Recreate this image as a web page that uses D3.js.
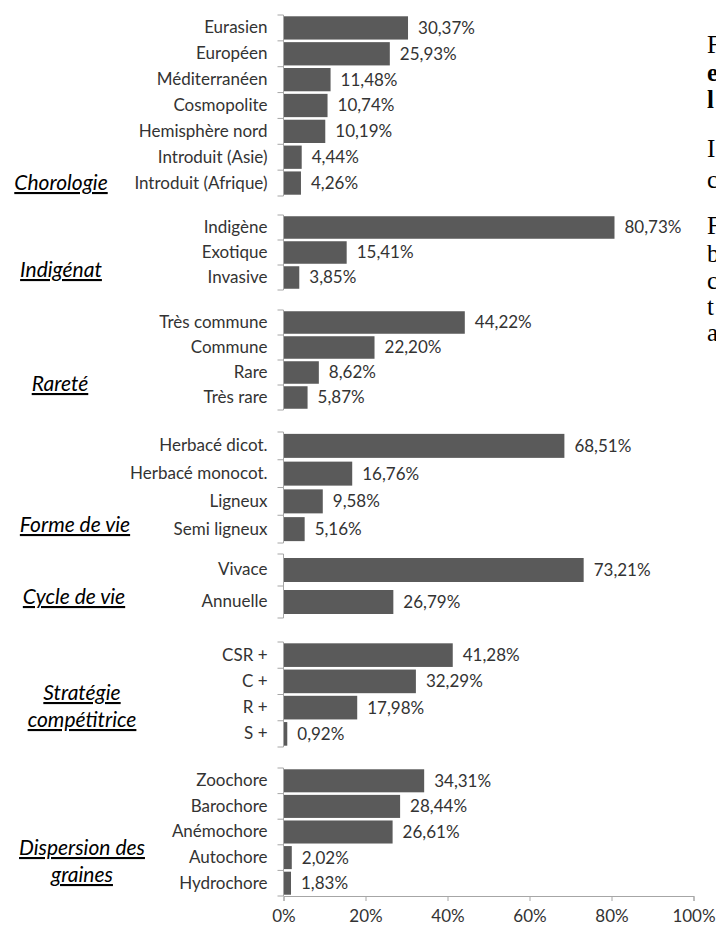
<!DOCTYPE html>
<html>
<head>
<meta charset="utf-8">
<script src="https://cdn.jsdelivr.net/npm/d3@7"></script>
<style>
  body { margin: 0; background: #fff; }
  svg { display: block; }
  .cat text { font-family: Lato, "Open Sans", sans-serif; font-size: 17px; fill: #333; }
  .val { font-family: Lato, "Open Sans", sans-serif; font-size: 17px; fill: #333; }
  .xaxis text { font-family: Lato, "Open Sans", sans-serif; font-size: 17px; fill: #333; }
  .title { font-family: Lato, "Open Sans", sans-serif; font-size: 21px; font-style: italic; text-decoration: underline; fill: #000; }
  .side { font-family: "Liberation Serif", "DejaVu Serif", serif; font-size: 25px; fill: #000; }
</style>
</head>
<body>
<svg width="716" height="928"></svg>
<script>
const svg = d3.select('svg');

// data, one list per block
const chorologie = ['Eurasien', 'Européen', 'Méditerranéen', 'Cosmopolite', 'Hemisphère nord', 'Introduit (Asie)', 'Introduit (Afrique)'];
const chorologieVal = [30.37, 25.93, 11.48, 10.74, 10.19, 4.44, 4.26];

const indigenat = ['Indigène', 'Exotique', 'Invasive'];
const indigenatVal = [80.73, 15.41, 3.85];

const rarete = ['Très commune', 'Commune', 'Rare', 'Très rare'];
const rareteVal = [44.22, 22.20, 8.62, 5.87];

const forme = ['Herbacé dicot.', 'Herbacé monocot.', 'Ligneux', 'Semi ligneux'];
const formeVal = [68.51, 16.76, 9.58, 5.16];

const cycle = ['Vivace', 'Annuelle'];
const cycleVal = [73.21, 26.79];

const strategie = ['CSR +', 'C +', 'R +', 'S +'];
const strategieVal = [41.28, 32.29, 17.98, 0.92];

const dispersion = ['Zoochore', 'Barochore', 'Anémochore', 'Autochore', 'Hydrochore'];
const dispersionVal = [34.31, 28.44, 26.61, 2.02, 1.83];

const titles = [['Chorologie'], ['Indigénat'], ['Rareté'], ['Forme de vie'], ['Cycle de vie'],
  ['Stratégie', 'compétitrice'], ['Dispersion des', 'graines']];

const xTicks = [0, 20, 40, 60, 80, 100];

// bits of the neighbouring paragraph, cut off by the page edge
const sideLetters = ['F', 'e', 'l', 'I', 'c', 'F', 'b', 'c', 't', 'a'];
const sideBold = [false, true, true, false, false, false, false, false, false, false];

// layout
const x0 = 283.5, x1 = 693.5;
const x = d3.scaleLinear().domain([0, 100]).range([x0, x1]);

// vertical extent of each block, title position
const blocks = [
  { cats: chorologie, vals: chorologieVal, top: 15, bottom: 196, tx: 61, ty: 190 },
  { cats: indigenat, vals: indigenatVal, top: 215, bottom: 290, tx: 61, ty: 277 },
  { cats: rarete, vals: rareteVal, top: 310, bottom: 410, tx: 60, ty: 391 },
  { cats: forme, vals: formeVal, top: 432, bottom: 543, tx: 75, ty: 532 },
  { cats: cycle, vals: cycleVal, top: 554, bottom: 618, tx: 74, ty: 604 },
  { cats: strategie, vals: strategieVal, top: 642, bottom: 747, tx: 82, ty: 700 },
  { cats: dispersion, vals: dispersionVal, top: 768, bottom: 896, tx: 82, ty: 855 }
];

const fmt = v => d3.format('.2f')(v).replace('.', ',') + '%';

blocks.forEach((b, i) => {
  const y = d3.scaleBand().domain(b.cats).range([b.top, b.bottom]);
  const g = svg.append('g');
  const rows = b.cats.map((c, j) => ({ cat: c, val: b.vals[j] }));
  const fill = Math.min(0.9, 24 / y.bandwidth());

  // bars
  g.selectAll('rect').data(rows).enter().append('rect')
    .attr('x', x(0))
    .attr('y', d => y(d.cat) + y.bandwidth() * (1 - fill) / 2)
    .attr('width', d => x(d.val) - x(0))
    .attr('height', y.bandwidth() * fill)
    .attr('fill', '#5a5a5a');

  // value labels
  g.selectAll('.val').data(rows).enter().append('text')
    .attr('class', 'val')
    .attr('x', d => x(d.val) + 10)
    .attr('y', d => y(d.cat) + y.bandwidth() / 2)
    .attr('dy', '0.35em')
    .text(d => fmt(d.val));

  // category axis, ticks between categories (excel style)
  const ax = g.append('g').attr('class', 'cat')
    .attr('transform', `translate(${x0},0)`)
    .call(d3.axisLeft(y).tickSize(0).tickPadding(16));
  ax.select('.domain').remove();
  const bounds = b.cats.map(c => y(c)).concat([b.bottom]);
  g.selectAll('.tk').data(bounds).enter().append('line')
    .attr('x1', x0 - 6).attr('x2', x0)
    .attr('y1', d => d).attr('y2', d => d)
    .attr('stroke', '#a6a6a6');
  g.append('line')
    .attr('x1', x0).attr('x2', x0)
    .attr('y1', b.top).attr('y2', b.bottom)
    .attr('stroke', '#a6a6a6');

  // block title
  const t = g.append('text').attr('class', 'title')
    .attr('x', b.tx).attr('y', b.ty).attr('text-anchor', 'middle');
  titles[i].forEach((line, k) => {
    t.append('tspan').attr('x', b.tx).attr('dy', k === 0 ? 0 : 27).text(line);
  });
});

// x axis under last block
const xa = svg.append('g').attr('class', 'xaxis')
  .attr('transform', `translate(0,${blocks[6].bottom})`)
  .call(d3.axisBottom(x).tickValues(xTicks).tickSize(5).tickPadding(9).tickFormat(d => d + '%'));
xa.select('.domain').attr('stroke', '#a6a6a6');
xa.selectAll('.tick line').attr('stroke', '#a6a6a6');

// side text
const sideY = [53, 81, 108, 157, 188, 234, 262, 289, 315, 341];
svg.selectAll('.side').data(sideLetters).enter().append('text')
  .attr('class', 'side')
  .attr('x', 707)
  .attr('y', (d, i) => sideY[i])
  .attr('font-weight', (d, i) => sideBold[i] ? 'bold' : 'normal')
  .text(d => d);
</script>
</body>
</html>
